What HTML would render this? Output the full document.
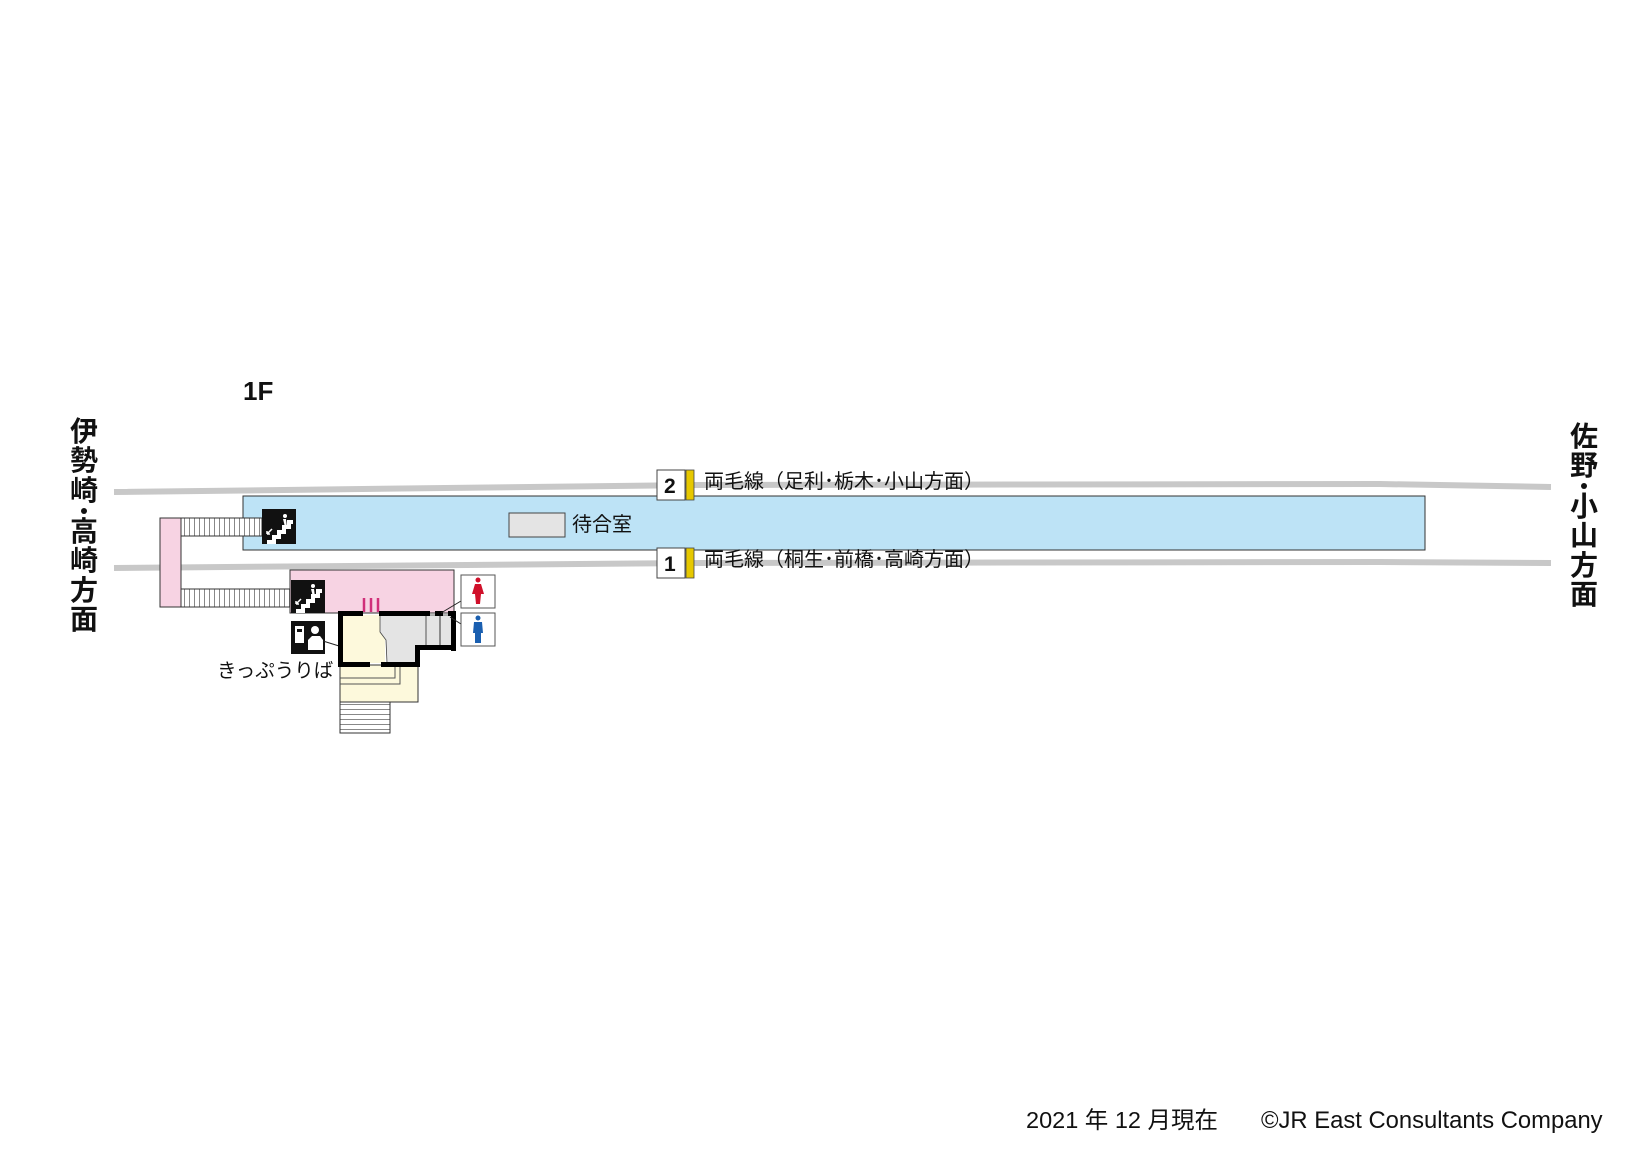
<!DOCTYPE html>
<html><head><meta charset="utf-8"><style>
html,body{margin:0;padding:0;background:#fff;width:1642px;height:1162px;overflow:hidden}
svg{display:block}
text{font-family:"Liberation Sans","Noto Sans CJK JP",sans-serif;fill:#111}
</style></head><body>
<svg width="1642" height="1162" viewBox="0 0 1642 1162" xmlns="http://www.w3.org/2000/svg">
<defs>
<pattern id="st" width="5" height="10" patternUnits="userSpaceOnUse"><rect width="5" height="10" fill="#fff"/><line x1="4.5" y1="0" x2="4.5" y2="10" stroke="#888" stroke-width="1"/></pattern>
<pattern id="sth" width="10" height="5" patternUnits="userSpaceOnUse"><rect width="10" height="5" fill="#fff"/><line x1="0" y1="4.5" x2="10" y2="4.5" stroke="#888" stroke-width="1"/></pattern>
</defs>
<text x="243" y="400" font-size="26" font-weight="bold">1F</text>
<polyline points="114,492 700,485 1380,484 1551,487" fill="none" stroke="#c8c8c8" stroke-width="6"/>
<polyline points="114,568 700,563 1380,562 1551,563" fill="none" stroke="#c8c8c8" stroke-width="6"/>
<rect x="243" y="496" width="1182" height="54" fill="#bde3f6" stroke="#333" stroke-width="1"/>
<rect x="509" y="513" width="56" height="24" fill="#e4e4e4" stroke="#444" stroke-width="1"/>
<text x="572" y="531" font-size="20">待合室</text>
<rect x="657" y="470" width="28" height="30" fill="#fff" stroke="#444"/>
<text x="664" y="493" font-size="21" font-weight="bold">2</text>
<rect x="686" y="470" width="8" height="30" fill="#e6c800" stroke="#444" stroke-width="0.8"/>
<text x="704" y="488" font-size="20">両毛線（足利･栃木･小山方面）</text>
<rect x="657" y="548" width="28" height="30" fill="#fff" stroke="#444"/>
<text x="664" y="571" font-size="21" font-weight="bold">1</text>
<rect x="686" y="548" width="8" height="30" fill="#e6c800" stroke="#444" stroke-width="0.8"/>
<text x="704" y="566" font-size="20">両毛線（桐生･前橋･高崎方面）</text>
<rect x="160" y="518" width="21" height="89" fill="#f7d3e3" stroke="#333"/>
<rect x="181" y="518" width="81" height="18" fill="url(#st)" stroke="#333"/>
<rect x="181" y="589" width="110" height="18" fill="url(#st)" stroke="#333"/>
<rect x="290" y="570" width="164" height="43" fill="#f7d3e3" stroke="#333"/>
<g><rect x="262" y="509" width="34" height="35" fill="#111"/>
<path d="M267 540 h5 v-5 h5 v-5 h5 v-5 h5 v-5 h6 v4 h-2 v5 h-5 v5 h-5 v5 h-5 v5 h-9z" fill="#fff"/>
<circle cx="285" cy="516" r="2" fill="#fff"/><path d="M283 519 l3 0 l1 8 l-2 0 z" fill="#fff"/>
<path d="M267 534 l5 -5 M267 534 v-3 M267 534 h3" stroke="#fff" stroke-width="1.5"/></g>
<g><rect x="291" y="580" width="34" height="33" fill="#111"/>
<path d="M296 609 h5 v-5 h5 v-5 h5 v-5 h5 v-5 h6 v4 h-2 v5 h-5 v5 h-5 v5 h-5 v5 h-9z" fill="#fff"/>
<circle cx="313" cy="586" r="2" fill="#fff"/><path d="M311 589 l3 0 l1 8 l-2 0 z" fill="#fff"/>
<path d="M296 604 l5 -5 M296 604 v-3 M296 604 h3" stroke="#fff" stroke-width="1.5"/></g>
<rect x="291" y="621" width="34" height="33" fill="#111"/>
<rect x="295" y="626" width="9" height="17" fill="#fff"/><rect x="297" y="629" width="5" height="3" fill="#111"/>
<circle cx="315" cy="630" r="4" fill="#fff"/><path d="M308 650 v-10 l4-4 h8 l3 4 v10z" fill="#fff"/>
<line x1="323" y1="641" x2="384" y2="660" stroke="#222" stroke-width="1"/>
<text x="217" y="677" font-size="19.5">きっぷうりば</text>
<rect x="340" y="665" width="78" height="37" fill="#fdf9dc" stroke="#333"/>
<polyline points="340,678 395,678 395,665" fill="none" stroke="#555"/>
<polyline points="340,684 400,684 400,665" fill="none" stroke="#555"/>
<rect x="340" y="702" width="50" height="31" fill="url(#sth)" stroke="#333"/>
<rect x="343" y="615" width="42" height="48" fill="#fdf9dc"/>
<path d="M380 615 H452 V646 H416 V663 H387 L386 640 L380 632 Z" fill="#e4e4e4" stroke="#444" stroke-width="0.8"/>
<line x1="426" y1="616" x2="426" y2="646" stroke="#555"/>
<line x1="440" y1="616" x2="440" y2="646" stroke="#333"/>
<line x1="364" y1="598" x2="364" y2="612" stroke="#d0307a" stroke-width="2.5"/>
<line x1="371" y1="598" x2="371" y2="612" stroke="#d0307a" stroke-width="2.5"/>
<line x1="378" y1="598" x2="378" y2="612" stroke="#d0307a" stroke-width="2.5"/>
<g fill="#000">
<rect x="338" y="611" width="5" height="56"/>
<rect x="338" y="611" width="25" height="5"/>
<rect x="379" y="611" width="51" height="5"/>
<rect x="435" y="611" width="8" height="5"/>
<rect x="448" y="611" width="8" height="5"/>
<rect x="451" y="611" width="5" height="40"/>
<rect x="415" y="645" width="41" height="5"/>
<rect x="415" y="645" width="5" height="22"/>
<rect x="338" y="662" width="32" height="5"/>
<rect x="381" y="662" width="39" height="5"/>
</g>
<line x1="441" y1="613" x2="461" y2="601" stroke="#222"/>
<line x1="450" y1="617" x2="461" y2="624" stroke="#222"/>
<rect x="461" y="575" width="34" height="33" fill="#fff" stroke="#555"/>
<circle cx="478" cy="580" r="2.5" fill="#d0102a"/><path d="M475 584 h6 l3 10 h-3 l-1 10 h-4 l-1 -10 h-3z" fill="#d0102a"/>
<rect x="461" y="613" width="34" height="33" fill="#fff" stroke="#555"/>
<circle cx="478" cy="618" r="2.5" fill="#1a5fb0"/><path d="M474 622 h8 l1 11 h-2 v10 h-6 v-10 h-2z" fill="#1a5fb0"/>
<g font-size="28" font-weight="bold" text-anchor="middle">
<text x="84" y="441">伊</text><text x="84" y="470">勢</text><text x="84" y="500">崎</text>
<circle cx="84" cy="511" r="3" fill="#111"/>
<text x="84" y="541">高</text><text x="84" y="570">崎</text><text x="84" y="600">方</text><text x="84" y="629">面</text>
<text x="1584" y="446">佐</text><text x="1584" y="475">野</text>
<circle cx="1584" cy="486" r="3" fill="#111"/>
<text x="1584" y="516">小</text><text x="1584" y="545">山</text><text x="1584" y="575">方</text><text x="1584" y="604">面</text>
</g>
<text x="1026" y="1128" font-size="23.5">2021 年 12 月現在</text>
<text x="1261" y="1128" font-size="23.8">©JR East Consultants Company</text>
</svg>
</body></html>
